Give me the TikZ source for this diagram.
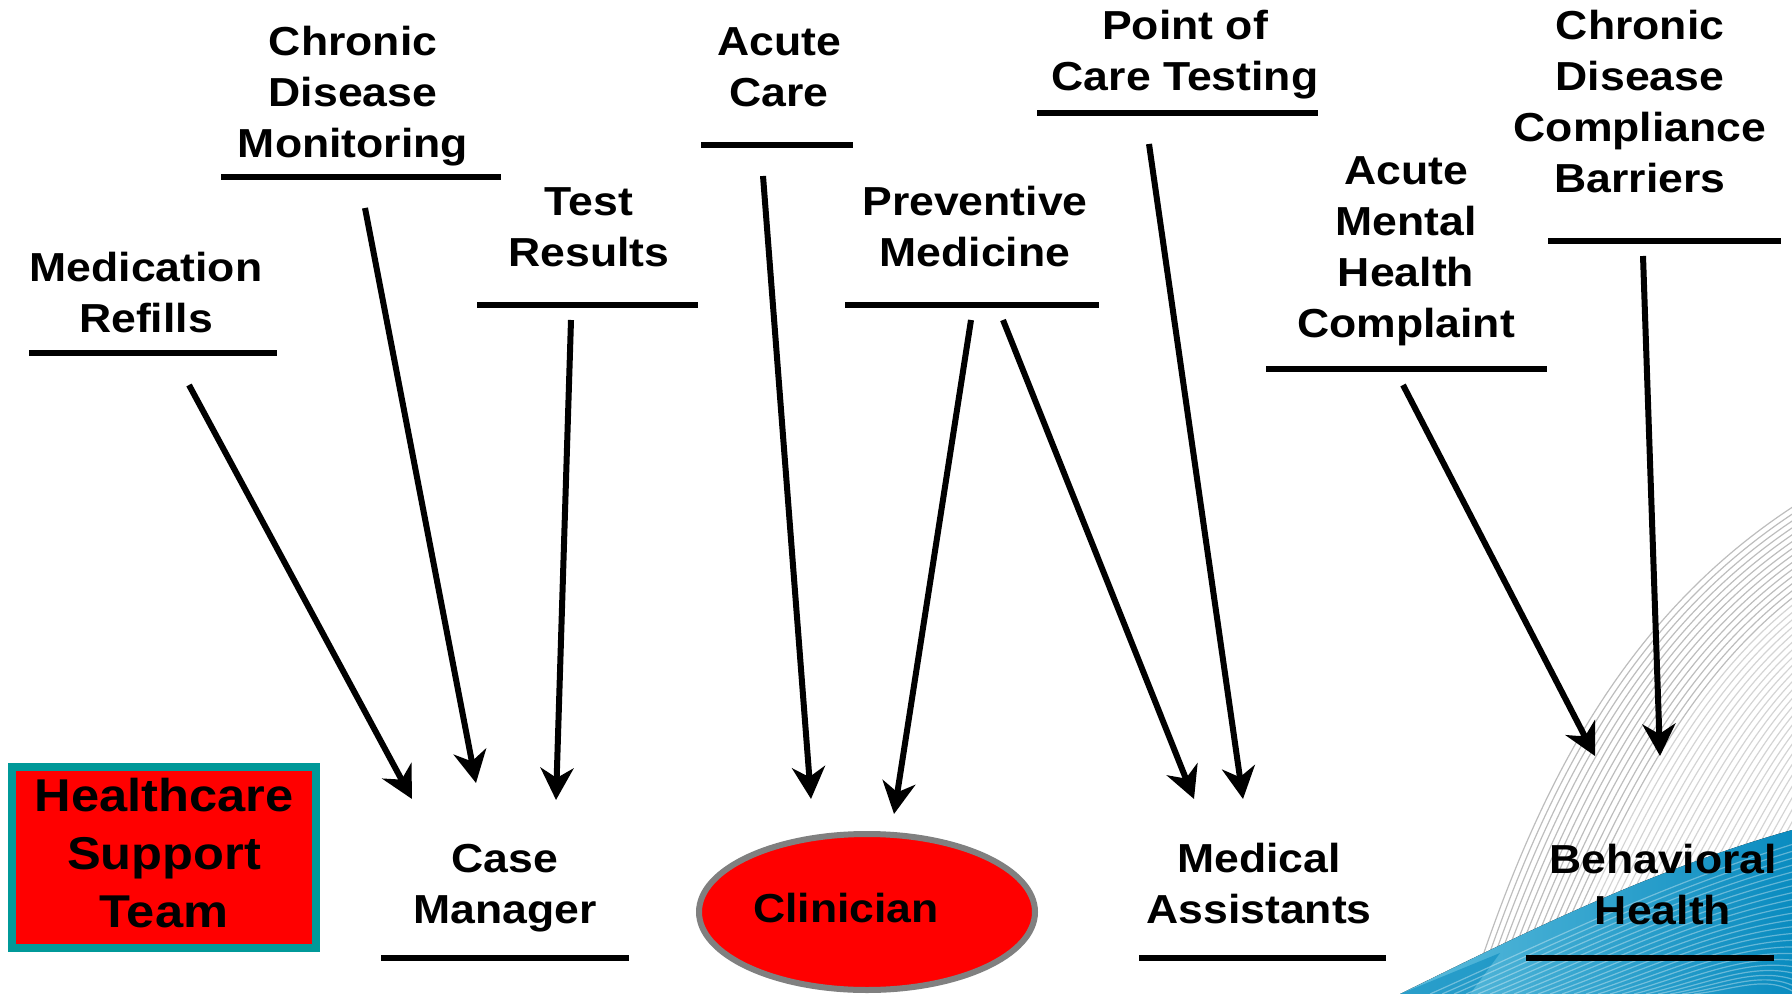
\documentclass[tikz,border=0pt]{standalone}
\usepackage{fontspec}
\setmainfont{Liberation Sans}[FakeStretch=1.1]
\usetikzlibrary{arrows.meta,shapes.geometric}
\definecolor{boxteal}{HTML}{009999}
\definecolor{ellgray}{HTML}{808080}
\definecolor{bluea}{HTML}{5CBCDC}
\definecolor{blueb}{HTML}{0A8CC0}
\newcommand\lstrut{\rule[-0.21em]{0pt}{0.96em}}
\tikzset{
  lbl/.style={font=\bfseries\fontsize{20.25}{25.5}\selectfont, align=center, inner sep=0pt},
  uline/.style={line width=2.75pt},
  arr/.style={line width=3pt, -{Stealth[length=16pt,width=16.5pt,inset=5pt]}},
  hst/.style={draw=boxteal, line width=4pt, fill=red, minimum width=152pt, minimum height=90.5pt,
    inner sep=0pt, align=center, font=\bfseries\fontsize{23}{29}\selectfont},
  clin/.style={ellipse, draw=ellgray, line width=3pt, fill=red, minimum width=168pt, minimum height=78pt,
    inner sep=0pt, font=\bfseries\fontsize{20.25}{25.5}\selectfont}
}
\begin{document}
\begin{tikzpicture}[x=0.5pt,y=-0.5pt]
\useasboundingbox (0,0) rectangle (1792,994);
% background swoosh
\begin{scope}
\clip (0,0) rectangle (1792,994);
\foreach \i in {0,...,60} {
  \pgfmathsetmacro{\gl}{\i<14 ? 26 : 17}
  \draw[black!\gl, line width=0.6pt]
    ({1470+5.5*\i},994) .. controls ({1540+6.5*\i},{780+2.5*\i}) and ({1640+4.5*\i},{560+4.5*\i}) .. (1900,{450+6.5*\i});
}
\fill[left color=bluea, right color=blueb]
  (1400,994) .. controls (1520,935) and (1650,870) .. (1792,830) -- (1792,994) -- cycle;
\fill[blueb, opacity=0.6] (1400,994) -- (1500,953) -- (1470,994) -- cycle;
\foreach \i in {0,...,22} {
  \draw[white, opacity=0.35, line width=0.6pt]
    ({1430+12*\i},994) .. controls ({1540+9*\i},{945+2*\i}) and ({1660+5*\i},{885+4*\i}) .. (1800,{842+7*\i});
}
\end{scope}
% top labels
\node[lbl] (med)  at (146,296)  {\lstrut Medication\\Refills\lstrut};
\node[lbl] (cdm)  at (353,96)   {\lstrut Chronic\\Disease\\Monitoring\lstrut};
\node[lbl] (test) at (589,230)  {\lstrut Test\\Results\lstrut};
\node[lbl] (acu)  at (779,70)   {\lstrut Acute\\Care\lstrut};
\node[lbl] (prev) at (975,230)  {\lstrut Preventive\\Medicine\lstrut};
\node[lbl] (poc)  at (1185,54)  {\lstrut Point of\\Care Testing\lstrut};
\node[lbl] (amh)  at (1406,250) {\lstrut Acute\\Mental\\Health\\Complaint\lstrut};
\node[lbl] (cdcb) at (1640,105) {\lstrut Chronic\\Disease\\Compliance\\Barriers\lstrut};
% underlines
\draw[uline] (29,353) -- (277,353);
\draw[uline] (221,177) -- (501,177);
\draw[uline] (477,305) -- (698,305);
\draw[uline] (701,145) -- (853,145);
\draw[uline] (845,305) -- (1099,305);
\draw[uline] (1037,113) -- (1318,113);
\draw[uline] (1266,369) -- (1547,369);
\draw[uline] (1548,241) -- (1781,241);
% bottom labels
\node[lbl] (cm) at (505,887)  {\lstrut Case\\Manager\lstrut};
\node[lbl] (ma) at (1259,887) {\lstrut Medical\\Assistants\lstrut};
\node[lbl] (bh) at (1663,888) {\lstrut Behavioral\\Health\lstrut};
\draw[uline] (381,958) -- (629,958);
\draw[uline] (1139,958) -- (1386,958);
\draw[uline] (1526,958) -- (1774,958);
\node[clin] (cli) at (867,912) {\lstrut Clinician\hspace*{21pt}};
\node[hst] (hst) at (164,857) {\lstrut Healthcare\\Support\\Team\lstrut};
% arrow anchors
\coordinate (med-o)  at (189,385);
\coordinate (cdm-o)  at (365,208);
\coordinate (test-o) at (571,320);
\coordinate (acu-o)  at (763,176);
\coordinate (prev-o1) at (971,320);
\coordinate (prev-o2) at (1003,320);
\coordinate (poc-o)  at (1149,144);
\coordinate (amh-o)  at (1403,385);
\coordinate (cdcb-o) at (1643,256);
\coordinate (cm-i1) at (412,799);
\coordinate (cm-i2) at (476,783);
\coordinate (cm-i3) at (556,800);
\coordinate (cli-i1) at (811,799);
\coordinate (cli-i2) at (894,814);
\coordinate (ma-i1) at (1194,799);
\coordinate (ma-i2) at (1243,799);
\coordinate (bh-i1) at (1595,756);
\coordinate (bh-i2) at (1660,756);
% arrows
\draw[arr] (med-o) -- (cm-i1);
\draw[arr] (cdm-o) -- (cm-i2);
\draw[arr] (test-o) -- (cm-i3);
\draw[arr] (acu-o) -- (cli-i1);
\draw[arr] (prev-o1) -- (cli-i2);
\draw[arr] (prev-o2) -- (ma-i1);
\draw[arr] (poc-o) -- (ma-i2);
\draw[arr] (amh-o) -- (bh-i1);
\draw[arr] (cdcb-o) -- (bh-i2);
\end{tikzpicture}
\end{document}
